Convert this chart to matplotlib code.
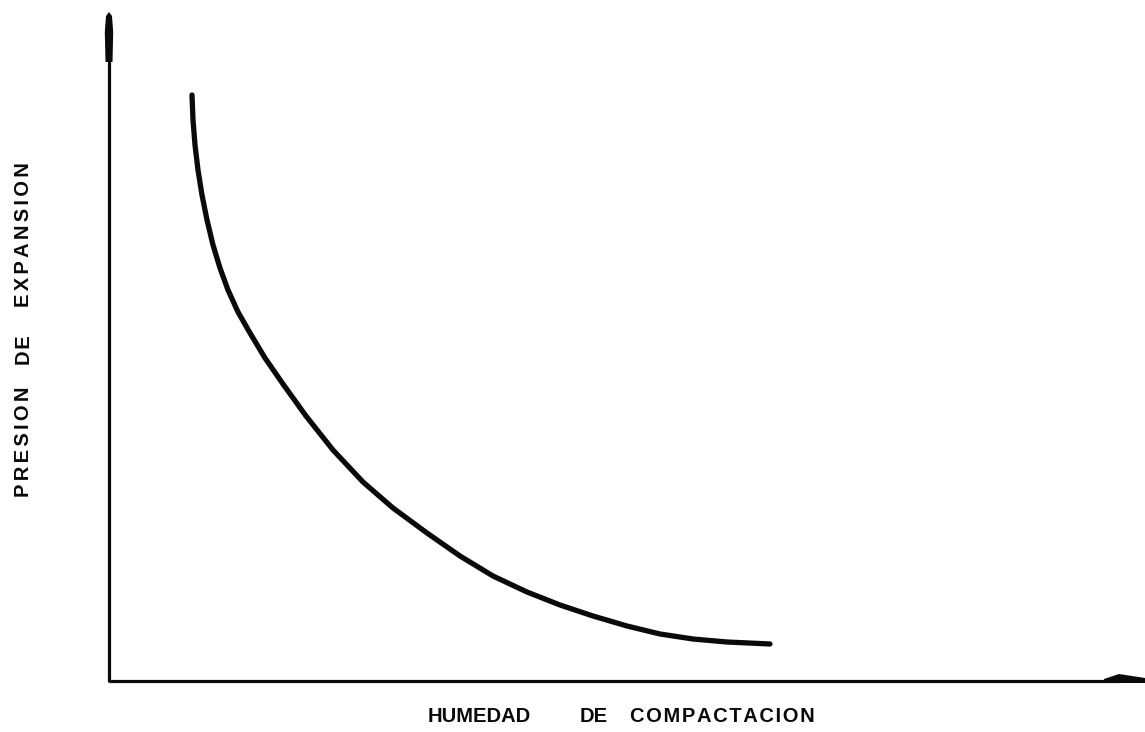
import matplotlib
matplotlib.use("Agg")
import matplotlib.pyplot as plt

# Swelling pressure vs. compaction moisture (arbitrary units, qualitative curve)
humedad = [83, 84, 86, 89, 93, 98, 104, 111, 119, 129, 141, 156, 174, 197,
           224, 254, 284, 318, 351, 384, 418, 451, 484, 518, 551, 584, 618, 661]
presion = [587, 562, 537, 512, 487, 462, 437, 414, 392, 370, 349, 324, 298,
           266, 232, 200, 174, 149, 126, 106, 90, 77, 66, 56, 48, 43, 40, 38]

x_words = ["HUMEDAD", "DE", "COMPACTACION"]
y_words = ["PRESION", "DE", "EXPANSION"]


def spaced(word, n):
    """Insert n hair spaces between the letters of a word."""
    return ("\u200a" * n).join(word)


fig = plt.figure(figsize=(11.45, 7.32), dpi=100)
ax = fig.add_axes([0, 0, 1, 1])
ax.set_xlim(-109, 1036)
ax.set_ylim(-50, 682)
ax.axis("off")

ink = "#0a0a0a"

# Axes with arrowheads
ax.plot([0, 0], [0, 640], color=ink, lw=2.3, solid_capstyle="butt")
ax.plot([0, 1010], [1, 1], color=ink, lw=2.3, solid_capstyle="butt")
ax.fill([-3.5, -4.2, -3.0, 0, 3.0, 4.2, 3.5],
        [620, 650, 666, 670, 666, 650, 620], color=ink, lw=0)
ax.fill([995, 1010, 1036, 1036, 995],
        [3, 8, 4, -1, -1], color=ink, lw=0)

# Curve
ax.plot(humedad, presion, color=ink, lw=3.8, solid_capstyle="round",
        solid_joinstyle="round")

font = dict(family=["Liberation Sans", "DejaVu Sans"], weight="bold",
            size=14.5, color=ink)
ax.text(319, -35, x_words[0], ha="left", va="center", **font)
ax.text(471, -35, x_words[1], ha="left", va="center", **font)
ax.text(521, -35, spaced(x_words[2], 1), ha="left", va="center", **font)
for word, ypos, n in zip(y_words, [240, 332, 447], [2, 1, 2]):
    ax.text(-85, ypos, spaced(word, n), ha="center", va="center",
            rotation=90, **font)

fig.savefig("out.png", dpi=100)
